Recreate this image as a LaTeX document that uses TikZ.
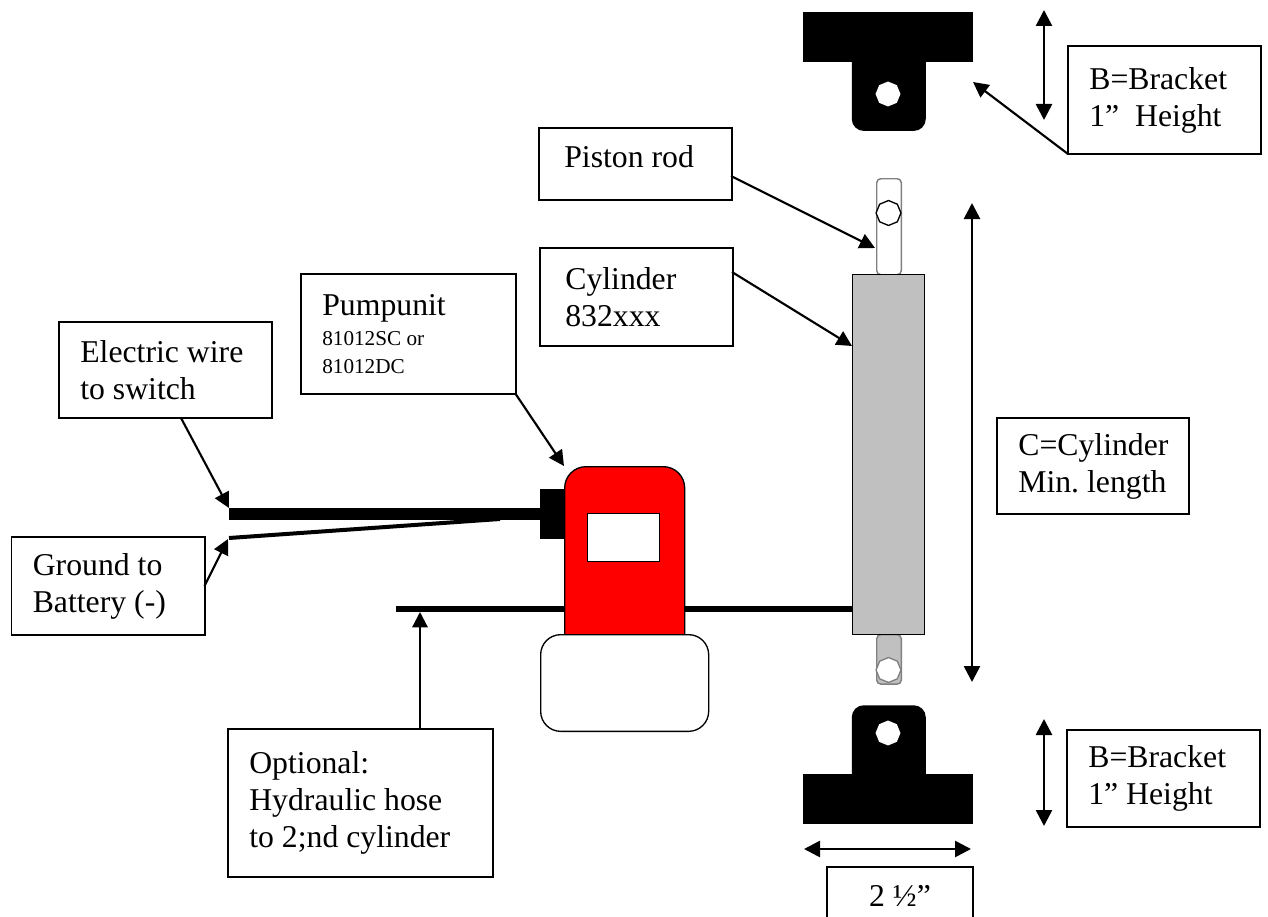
\documentclass[tikz,border=0pt]{standalone}
\usepackage{fontspec}
\setmainfont{Liberation Serif}
\usepackage{xcolor}
\definecolor{pumpRed}{HTML}{FF0000}
\definecolor{cylGray}{HTML}{C0C0C0}
\definecolor{rodGray}{HTML}{808080}
\usetikzlibrary{shapes.geometric,arrows.meta,positioning}
\tikzset{
    labelbox/.style={
        draw=black,
        fill=white,
        rectangle,
        anchor=north west,
        align=flush left,
        line width=1.4pt,
        outer sep=0pt,
        inner xsep=16pt,
        inner ysep=0pt,
        font=\fontsize{23.8}{27.7}\selectfont
    },
    blackbar/.style={
        fill=black,
        rectangle,
        anchor=north west,
        inner sep=0pt,
        minimum width=127.5pt,
        minimum height=37.5pt
    },
    stem/.style={
        fill=black,
        rectangle,
        anchor=north west,
        inner sep=0pt,
        rounded corners=9pt,
        minimum width=55.5pt,
        minimum height=68pt
    },
    hole/.style={
        regular polygon,
        regular polygon sides=8,
        shape border rotate=22.5,
        inner sep=0pt,
        minimum size=18.7pt,
        fill=white
    },
    rod/.style={
        draw=rodGray,
        rectangle,
        anchor=north west,
        inner sep=0pt,
        line width=1.1pt,
        rounded corners=3pt,
        minimum width=18.4pt
    },
    arrow/.style={
        -{Triangle[length=11.5pt,width=11.5pt]},
        line width=1.6pt,
        color=black
    },
    dimarrow/.style={
        {Triangle[length=12pt,width=12pt]}-{Triangle[length=12pt,width=12pt]},
        line width=2pt,
        color=black
    },
    wire/.style={
        draw=black,
        line cap=butt
    }
}
\begin{document}
\begin{tikzpicture}[x=0.75pt,y=-0.75pt]
    \useasboundingbox (0,0) rectangle (1268,917);

    % Upper bracket
    \node[stem] (stemTop) at (851.5,40) {};
    \node[blackbar] (barTop) at (803,12) {};
    \node[hole] (holeTop) at (888,94) {};

    % Rods and cylinder
    \node[rod, fill=white, minimum height=72pt] (rodTop) at (876,178) {};
    \node[hole, draw=black, line width=1pt] (rodTopEye) at (888.5,213) {};
    \node[rod, fill=cylGray, minimum height=37pt] (rodLow) at (876,634) {};
    \node[hole, draw=rodGray, line width=1pt] (rodLowEye) at (888.5,670) {};
    \node[draw=black, fill=cylGray, rectangle, anchor=north west, inner sep=0pt, line width=1pt,
        minimum width=54pt, minimum height=270pt] (cyl) at (852,274) {};

    % Lower bracket
    \node[stem] (stemLow) at (851.5,705) {};
    \node[blackbar] (barLow) at (803,774) {};
    \node[hole] (holeLow) at (888,733) {};

    % Hose runs behind the pump
    \coordinate (hoseEnd) at (396,609);
    \draw[wire, line width=3.8pt] (hoseEnd) -- (hoseEnd -| cyl.west);

    % Pump unit
    \node[draw=black, fill=pumpRed, rectangle, anchor=north west, inner sep=0pt, line width=1pt,
        rounded corners=16pt, minimum width=90pt, minimum height=150pt] (pump) at (564,466) {};
    \node[draw=black, fill=white, rectangle, anchor=north west, inner sep=0pt, line width=1pt,
        minimum width=54pt, minimum height=36pt] (window) at (587,513) {};
    \node[draw=black, fill=white, rectangle, anchor=north west, inner sep=0pt, line width=1pt,
        rounded corners=15pt, minimum width=126pt, minimum height=72.5pt] (base) at (540,634) {};
    \node[fill=black, rectangle, anchor=north west, inner sep=0pt,
        minimum width=18pt, minimum height=37.5pt] (plug) at (540,489) {};

    % Wires
    \coordinate (wireEnd) at (229,514);
    \coordinate (groundEnd) at (229,538);
    \coordinate (groundJoin) at (500,519);
    \draw[wire, line width=9pt] (wireEnd) -- (wireEnd -| plug.west);
    \draw[wire, line width=3pt] (groundEnd) -- (groundJoin);

    % Labels
    \node[labelbox, text width=113pt, minimum height=81pt] (bracketTopLabel) at (1068,46) {B=Bracket\\1”\ \ Height};
    \node[labelbox, inner xsep=19pt, text width=106.5pt, text depth=11pt, minimum height=54pt] (pistonLabel) at (539,128) {Piston rod};
    \node[labelbox, inner xsep=19pt, text width=106.5pt, minimum height=73.5pt] (cylLabel) at (540,248) {Cylinder\\832xxx};
    \node[labelbox, text width=129pt, minimum height=90pt] (pumpLabel) at (301,274) {Pumpunit\\[2pt]{\fontsize{15.9}{21}\selectfont 81012SC or\\[-7pt]81012DC}};
    \node[labelbox, text width=128pt, minimum height=72pt] (wireLabel) at (59,322) {Electric wire\\to switch};
    \node[labelbox, text width=113pt, minimum height=73.5pt] (groundLabel) at (11.5,537) {Ground to\\Battery (-)};
    \node[labelbox, text width=166.5pt, minimum height=111pt] (hoseLabel) at (228,729) {Optional:\\Hydraulic hose\\to 2;nd cylinder};
    \node[labelbox, text width=112pt, minimum height=72pt] (lengthLabel) at (997,418) {C=Cylinder\\Min.~length};
    \node[labelbox, text width=113pt, minimum height=73pt] (bracketLowLabel) at (1067,730) {B=Bracket\\1” Height};
    \node[labelbox, inner xsep=0pt, align=center, minimum width=109.5pt, minimum height=43.5pt] (widthLabel) at (827,867) {2 ½”};

    % Arrows
    \coordinate (pistonFrom) at (731,176);
    \coordinate (pistonTo) at (875,248);
    \coordinate (cylFrom) at (732,272);
    \coordinate (cylTo) at (852,346);
    \coordinate (wireFrom) at (181,418);
    \coordinate (wireTo) at (229,508);
    \coordinate (groundFrom) at (204.5,586);
    \coordinate (groundTo) at (228,539);
    \coordinate (hoseTo) at (420,612);
    \coordinate (hoseFrom) at (420,729);
    \coordinate (bracketTo) at (973,82);

    \draw[arrow] (pistonFrom) -- (pistonTo);
    \draw[arrow] (cylFrom) -- (cylTo);
    \draw[arrow] (wireFrom) -- (wireTo);
    \draw[arrow] (groundFrom) -- (groundTo);
    \draw[arrow] (hoseFrom) -- (hoseTo);
    \draw[arrow] (pumpLabel.south east) -- (pump.north west);
    \draw[arrow] (bracketTopLabel.south west) -- (bracketTo);

    % Dimensions
    \coordinate (topDimA) at (1044,10);
    \coordinate (topDimB) at (1044,120);
    \coordinate (cylDimA) at (972,203);
    \coordinate (cylDimB) at (972,682);
    \coordinate (lowDimA) at (1044,719);
    \coordinate (lowDimB) at (1044,826);
    \coordinate (widthDimA) at (804,849);
    \coordinate (widthDimB) at (971,849);
    \draw[dimarrow] (topDimA) -- (topDimB);
    \draw[dimarrow] (cylDimA) -- (cylDimB);
    \draw[dimarrow] (lowDimA) -- (lowDimB);
    \draw[dimarrow] (widthDimA) -- (widthDimB);
\end{tikzpicture}
\end{document}
